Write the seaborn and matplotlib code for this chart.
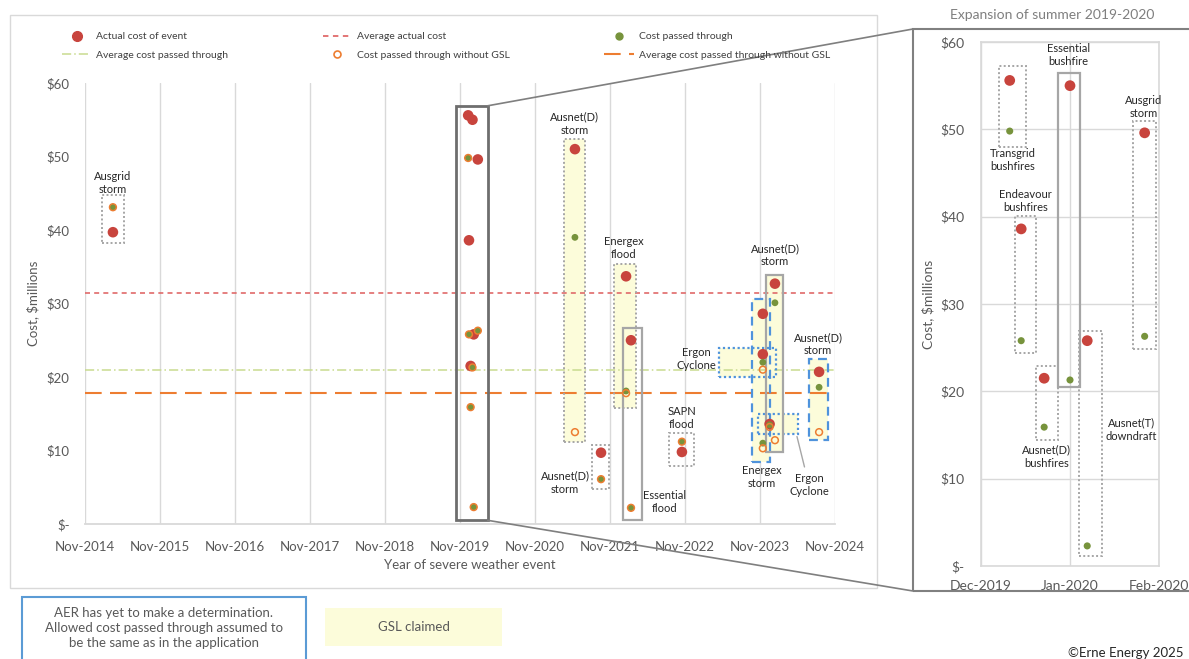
import numpy as np
import pandas as pd
import matplotlib
matplotlib.use("Agg")
import matplotlib.pyplot as plt
from matplotlib.patches import Rectangle, ConnectionPatch
from matplotlib.lines import Line2D
import seaborn as sns

# ---------------- data ----------------
event_names = ["Ausgrid storm", "Transgrid bushfires", "Endeavour bushfires", "Ausnet(D) bushfires",
               "Essential bushfire", "Ausnet(T) downdraft", "Ausgrid storm", "Ausnet(D) storm",
               "Ausnet(D) storm", "Energex flood", "Essential flood", "SAPN flood", "Energex storm",
               "Ergon Cyclone", "Ergon Cyclone", "Ausnet(D) storm", "Ausnet(D) storm"]
event_dates = ["2015-03-17", "2019-12-11", "2019-12-15", "2019-12-23", "2020-01-01", "2020-01-07",
               "2020-01-27", "2021-05-14", "2021-09-18", "2022-01-18", "2022-02-11", "2022-10-17",
               "2023-11-15", "2023-11-15", "2023-12-18", "2024-01-13", "2024-08-15"]
actual_cost = [39.7, 55.6, 38.6, 21.5, 55.0, 25.8, 49.6, 51.0, 9.7, 33.7, 25.0, 9.8,
               28.6, 23.1, 13.6, 32.7, 20.7]
passed_cost = [43.1, 49.8, 25.8, 15.9, 21.3, 2.3, 26.3, 39.0, 6.1, 18.1, 2.2, 11.2,
               11.0, 22.0, 13.5, 30.1, 18.6]
passed_no_gsl = [43.1, 49.8, 25.8, 15.9, 21.3, 2.3, 26.3, 12.5, 6.1, 17.8, 2.2, 11.2,
                 10.3, 21.0, 13.2, 11.4, 12.5]

main_start = "2014-11-01"
main_tick_labels = ["Nov-2014", "Nov-2015", "Nov-2016", "Nov-2017", "Nov-2018", "Nov-2019",
                    "Nov-2020", "Nov-2021", "Nov-2022", "Nov-2023", "Nov-2024"]
panel_start = "2019-12-01"
panel_tick_dates = ["2019-12-01", "2020-01-01", "2020-02-01"]
panel_tick_labels = ["Dec-2019", "Jan-2020", "Feb-2020"]
y_ticks = [0, 10, 20, 30, 40, 50, 60]
y_tick_labels = ["\\$-", "\\$10", "\\$20", "\\$30", "\\$40", "\\$50", "\\$60"]

# ---------------- styling ----------------
RED = "#C8443D"
GREEN = "#77933C"
ORANGE = "#ED7D31"
AVG_RED = "#E06A6A"
AVG_GREEN = "#C9DB8F"
GRID = "#D9D9D9"
TXT = "#595959"
DARK = "#262626"
BOXGREY = "#A6A6A6"
BLUE = "#4F93DC"
YELLOW = "#FCFCDA"

sns.set_theme(style="white")
plt.rcParams["font.family"] = ["Lato", "DejaVu Sans"]

W, H = 1189, 659
fig = plt.figure(figsize=(W / 100, H / 100), dpi=100)
fig.patch.set_facecolor("white")

df = pd.DataFrame({"event": event_names, "date": pd.to_datetime(event_dates),
                   "actual": actual_cost, "passed": passed_cost, "no_gsl": passed_no_gsl})
df["x_main"] = (df["date"] - pd.Timestamp(main_start)).dt.days / 365.25
df["x_panel"] = (df["date"] - pd.Timestamp(panel_start)).dt.days
summer = df[(df["date"] >= pd.Timestamp("2019-12-01")) & (df["date"] < pd.Timestamp("2020-02-01"))]

# outer chart border
fig.add_artist(Rectangle((10 / W, 1 - 588 / H), 867 / W, 573 / H, transform=fig.transFigure,
                         fill=False, ec=GRID, lw=1.0))

# ---------------- main axes ----------------
ax = fig.add_axes([85 / W, 1 - 524 / H, 750 / W, 441 / H])
ax.set_xlim(0, 10)
ax.set_ylim(0, 60)
for s in ["left", "top", "right"]:
    ax.spines[s].set_visible(False)
ax.spines["bottom"].set_color(GRID)
ax.spines["bottom"].set_linewidth(1.3)
ax.set_xticks(range(len(main_tick_labels)))
ax.set_xticklabels(main_tick_labels)
ax.set_yticks(y_ticks)
ax.set_yticklabels(y_tick_labels)
ax.tick_params(axis="both", length=0, colors=TXT, labelsize=9.5)
ax.tick_params(axis="y", pad=11)
ax.tick_params(axis="x", pad=12)
ax.grid(axis="x", color=GRID, lw=1.0)
ax.grid(axis="y", visible=False)

# averages
ax.axhline(np.mean(actual_cost), color=AVG_RED, lw=1.2, ls=(0, (3, 2.5)), zorder=2)
ax.axhline(np.mean(passed_cost), color=AVG_GREEN, lw=1.1, ls=(0, (6, 2, 1, 2)), zorder=2)
ax.axhline(np.mean(passed_no_gsl), color=ORANGE, lw=1.5, ls=(0, (8, 4)), zorder=2)


def add_box(a, x0, x1, y0, y1, kind, fill=False):
    styles = {
        "dot": dict(ec=BOXGREY, ls=(0, (1, 1.2)), lw=1.4),
        "solid": dict(ec=BOXGREY, ls="-", lw=1.6),
        "big": dict(ec="#6E6E6E", ls="-", lw=2.0),
        "bdash": dict(ec=BLUE, ls=(0, (4, 2.5)), lw=1.6),
        "bdot": dict(ec=BLUE, ls=(0, (1, 1.2)), lw=1.6),
    }
    if fill:
        a.add_patch(Rectangle((x0, y0), x1 - x0, y1 - y0, fc=YELLOW, ec="none", zorder=1))
    a.add_patch(Rectangle((x0, y0), x1 - x0, y1 - y0, fill=False, zorder=3, **styles[kind]))


# boxes (x in years since Nov-2014)
add_box(ax, 0.227, 0.52, 38.2, 44.8, "dot")
add_box(ax, 6.387, 6.667, 11.2, 52.4, "dot", fill=True)
add_box(ax, 6.76, 6.987, 4.8, 10.8, "dot")
add_box(ax, 7.053, 7.347, 15.8, 35.4, "dot", fill=True)
add_box(ax, 7.173, 7.427, 0.5, 26.7, "solid")
add_box(ax, 7.787, 8.12, 7.9, 12.4, "dot")
add_box(ax, 8.453, 9.213, 20.0, 23.9, "bdot", fill=True)
add_box(ax, 8.973, 9.507, 12.2, 15.0, "bdot", fill=True)
add_box(ax, 8.893, 9.133, 8.4, 30.6, "bdash", fill=True)
add_box(ax, 9.08, 9.307, 9.8, 33.9, "solid", fill=True)
add_box(ax, 9.653, 9.907, 11.4, 22.4, "bdash", fill=True)
big_box = (4.95, 5.37, 0.5, 56.9)
add_box(ax, *big_box, "big")

# points
sns.scatterplot(data=df, x="x_main", y="actual", ax=ax, color=RED, s=58,
                edgecolor="none", zorder=5, legend=False)
sns.scatterplot(data=df, x="x_main", y="passed", ax=ax, color=GREEN, s=24,
                edgecolor="none", zorder=6, legend=False)
sns.scatterplot(data=df, x="x_main", y="no_gsl", ax=ax, facecolor="none", edgecolor=ORANGE,
                s=24, linewidth=1.1, zorder=7, legend=False)
ax.set_xlabel("Year of severe weather event", color=TXT, fontsize=9.5)
ax.set_ylabel("Cost, \\$millions", color=TXT, fontsize=9.5)
ax.xaxis.set_label_coords((470 - 85) / 750, (524 - 559) / 441)
ax.yaxis.set_label_coords((39 - 85) / 750, 0.5)

# labels
lab_kw = dict(ha="center", va="center", fontsize=8, color=DARK, linespacing=1.25, zorder=9)
ax.text(0.373, 46.4, "Ausgrid\nstorm", **lab_kw)
ax.text(6.53, 54.5, "Ausnet(D)\nstorm", **lab_kw)
ax.text(7.187, 37.6, "Energex\nflood", **lab_kw)
ax.text(6.4, 5.6, "Ausnet(D)\nstorm", **lab_kw)
ax.text(7.733, 3.0, "Essential\nflood", **lab_kw)
ax.text(7.96, 14.4, "SAPN\nflood", **lab_kw)
ax.text(8.147, 22.4, "Ergon\nCyclone", **lab_kw)
ax.text(9.02, 6.4, "Energex\nstorm", **lab_kw)
ax.text(9.2, 36.6, "Ausnet(D)\nstorm", **lab_kw)
ax.text(9.773, 24.5, "Ausnet(D)\nstorm", **lab_kw)
ax.annotate("Ergon\nCyclone", xy=(9.493, 11.9), xytext=(9.653, 5.3),
            arrowprops=dict(arrowstyle="-", color=BOXGREY, lw=1.0, shrinkA=2, shrinkB=0), **lab_kw)

# legend at top
handles = [
    Line2D([], [], ls="none", marker="o", color=RED, markersize=7),
    Line2D([], [], color=AVG_GREEN, lw=1.1, ls=(0, (6, 2, 1, 2))),
    Line2D([], [], color=AVG_RED, lw=1.3, ls=(0, (3, 2.5))),
    Line2D([], [], ls="none", marker="o", mfc="none", mec=ORANGE, mew=1.2, markersize=5),
    Line2D([], [], ls="none", marker="o", color=GREEN, markersize=5),
    Line2D([], [], color=ORANGE, lw=1.5, ls=(0, (8, 4))),
]
labels = ["Actual cost of event", "Average cost passed through", "Average actual cost",
          "Cost passed through without GSL", "Cost passed through",
          "Average cost passed through without GSL"]
fig.legend(handles, labels, loc="center", bbox_to_anchor=(62 / W, 1 - 66 / H, 768 / W, 40 / H),
           mode="expand", ncol=3, frameon=False, fontsize=7.5, labelcolor="#404040",
           handlelength=2.8, handletextpad=0.5, labelspacing=0.9, borderpad=0, borderaxespad=0)

# ---------------- expansion panel ----------------
fig.add_artist(Rectangle((913 / W, 1 - 591 / H), 300 / W, 562 / H, transform=fig.transFigure,
                         fill=False, ec="#808080", lw=1.5))
fig.text(1052 / W, 1 - 15 / H, "Expansion of summer 2019-2020", ha="center", va="center",
         fontsize=10, color="#7F7F7F")

axp = fig.add_axes([981 / W, 1 - 566 / H, 178 / W, 524 / H])
axp.set_xlim(0, 62)
axp.set_ylim(0, 60)
for s in axp.spines.values():
    s.set_color(GRID)
    s.set_linewidth(1.2)
axp.set_xticks([(pd.Timestamp(d) - pd.Timestamp(panel_start)).days for d in panel_tick_dates])
axp.set_xticklabels(panel_tick_labels)
axp.set_yticks(y_ticks)
axp.set_yticklabels(y_tick_labels)
axp.tick_params(axis="both", length=0, colors=TXT, labelsize=10)
axp.tick_params(axis="y", pad=12)
axp.tick_params(axis="x", pad=10)
axp.grid(axis="y", color=GRID, lw=1.0)
axp.grid(axis="x", color=GRID, lw=1.0)

add_box(axp, 6.2, 15.8, 48.0, 57.2, "dot")
add_box(axp, 11.7, 19.3, 24.4, 40.1, "dot")
add_box(axp, 19.3, 26.9, 14.4, 22.9, "dot")
add_box(axp, 26.9, 34.4, 20.5, 56.5, "solid")
add_box(axp, 34.1, 42.3, 1.1, 26.9, "dot")
add_box(axp, 53.0, 61.0, 24.9, 51.0, "dot")

sns.scatterplot(data=summer, x="x_panel", y="actual", ax=axp, color=RED, s=60,
                edgecolor="none", zorder=5, legend=False)
sns.scatterplot(data=summer, x="x_panel", y="passed", ax=axp, color=GREEN, s=26,
                edgecolor="none", zorder=6, legend=False)
axp.set_xlabel("")
axp.set_ylabel("Cost, \\$millions", color=TXT, fontsize=10)
axp.yaxis.set_label_coords((934 - 981) / 178, 0.5)

plab = dict(ha="center", va="center", fontsize=8, color=DARK, linespacing=1.25, zorder=9)
axp.text(11.0, 46.5, "Transgrid\nbushfires", **plab)
axp.text(15.5, 41.8, "Endeavour\nbushfires", **plab)
axp.text(30.5, 58.5, "Essential\nbushfire", **plab)
axp.text(56.8, 52.6, "Ausgrid\nstorm", **plab)
axp.text(22.7, 12.5, "Ausnet(D)\nbushfires", **plab)
axp.text(52.4, 15.6, "Ausnet(T)\ndowndraft", **plab)

# connectors
for yv, fy in [(big_box[3], 29), (big_box[2], 591)]:
    con = ConnectionPatch(xyA=(big_box[1], yv), coordsA=ax.transData,
                          xyB=(913 / W, 1 - fy / H), coordsB=fig.transFigure,
                          color="#7F7F7F", lw=1.2)
    fig.add_artist(con)

# ---------------- bottom key ----------------
fig.add_artist(Rectangle((22 / W, 1 - 664 / H), 284 / W, 67 / H, transform=fig.transFigure,
                         fill=False, ec="#5B9BD5", lw=1.5))
fig.text(164 / W, 1 - 628 / H,
         "AER has yet to make a determination.\nAllowed cost passed through assumed to\nbe the same as in the application",
         ha="center", va="center", fontsize=9.5, color=TXT, linespacing=1.3)
fig.add_artist(Rectangle((325 / W, 1 - 646 / H), 177 / W, 38 / H, transform=fig.transFigure,
                         fc=YELLOW, ec="none"))
fig.text(414 / W, 1 - 627 / H, "GSL claimed", ha="center", va="center", fontsize=9.5, color=TXT)
fig.text(1183 / W, 1 - 653 / H, "\u00a9Erne Energy 2025", ha="right", va="center",
         fontsize=9.5, color=DARK)

fig.savefig("out.png", dpi=100)
